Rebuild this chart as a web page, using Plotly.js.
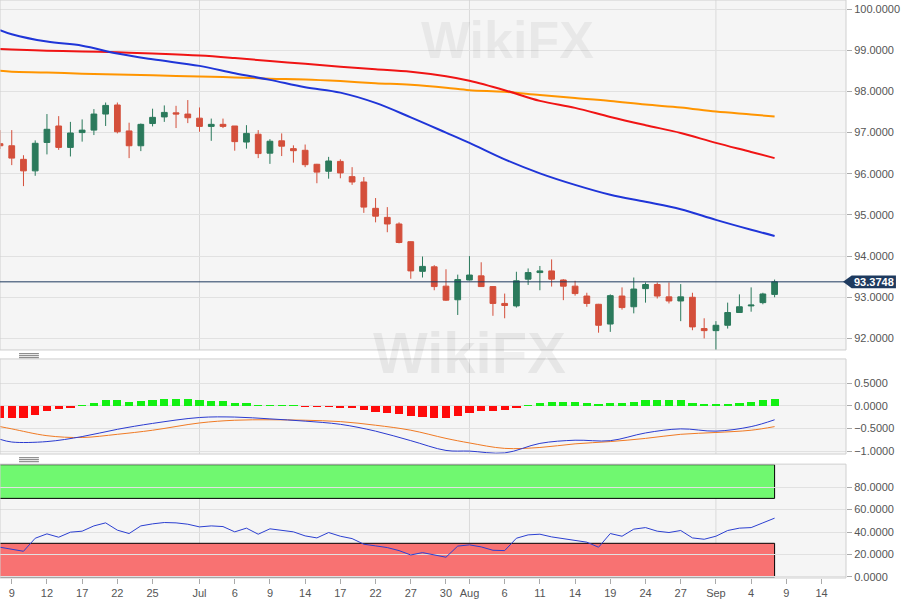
<!DOCTYPE html>
<html>
<head>
<meta charset="utf-8">
<script src="https://cdn.plot.ly/plotly-3.0.1.min.js"></script>
<style>
  html, body { margin: 0; padding: 0; background: #fff; }
  #chart { width: 914px; height: 607px; }
</style>
</head>
<body>
<div id="chart"></div>
<script>
// trading days shown on the chart (weekends removed)
const days = [
  '2020-06-08','2020-06-09','2020-06-10','2020-06-11','2020-06-12','2020-06-15','2020-06-16','2020-06-17','2020-06-18','2020-06-19',
  '2020-06-22','2020-06-23','2020-06-24','2020-06-25','2020-06-26','2020-06-29','2020-06-30',
  '2020-07-01','2020-07-02','2020-07-03','2020-07-06','2020-07-07','2020-07-08','2020-07-09','2020-07-10','2020-07-13','2020-07-14',
  '2020-07-15','2020-07-16','2020-07-17','2020-07-20','2020-07-21','2020-07-22','2020-07-23','2020-07-24','2020-07-27','2020-07-28',
  '2020-07-29','2020-07-30','2020-07-31',
  '2020-08-03','2020-08-04','2020-08-05','2020-08-06','2020-08-07','2020-08-10','2020-08-11','2020-08-12','2020-08-13','2020-08-14',
  '2020-08-17','2020-08-18','2020-08-19','2020-08-20','2020-08-21','2020-08-24','2020-08-25','2020-08-26','2020-08-27','2020-08-28',
  '2020-08-31',
  '2020-09-01','2020-09-02','2020-09-03','2020-09-04','2020-09-07','2020-09-08'
];

const open = [
  96.73,96.68,96.35,96.07,96.76,97.16,96.64,97.00,97.06,97.45,
  97.67,97.04,96.68,97.22,97.38,97.48,97.45,
  97.35,97.15,97.20,97.16,96.77,96.96,96.50,96.80,96.61,96.57,
  96.23,96.06,96.30,95.93,95.80,95.16,94.94,94.78,94.35,93.63,
  93.74,93.27,92.94,
  93.42,93.52,93.26,92.85,92.79,93.44,93.60,93.64,93.42,93.27,
  93.03,92.83,92.35,93.03,92.77,93.21,93.31,93.01,92.91,93.00,
  92.24,
  92.19,92.32,92.63,92.79,92.87,93.07
];
const high = [
  97.06,97.06,96.45,96.81,97.45,97.40,97.26,97.32,97.57,97.73,
  97.73,97.24,97.22,97.58,97.66,97.65,97.79,
  97.61,97.34,97.34,97.16,97.18,97.06,96.84,96.98,96.69,96.71,
  96.24,96.41,96.35,96.16,95.92,95.41,95.19,94.82,94.36,93.99,
  93.78,93.68,93.55,
  94.00,93.85,93.27,93.09,93.62,93.70,93.76,93.92,93.44,93.40,
  93.11,92.84,93.07,93.24,93.48,93.36,93.36,93.36,93.32,93.11,
  92.49,
  92.42,92.87,93.07,93.24,93.11,93.43
];
const low = [
  96.60,96.21,95.70,95.95,96.47,96.58,96.42,96.78,96.94,97.16,
  96.98,96.38,96.55,97.15,97.26,97.11,97.23,
  97.02,96.80,97.11,96.56,96.61,96.38,96.24,96.43,96.27,96.16,
  95.77,95.88,95.89,95.73,95.05,94.82,94.58,94.31,93.45,93.48,
  93.17,92.91,92.57,
  93.41,93.25,92.55,92.49,92.75,93.30,93.17,93.26,92.93,93.04,
  92.77,92.14,92.16,92.70,92.61,92.87,92.97,92.85,92.42,92.20,
  92.00,
  91.72,92.24,92.63,92.65,92.83,93.00
];
const close = [
  96.68,96.38,96.07,96.74,97.08,96.64,96.99,97.06,97.45,97.66,
  97.02,96.68,97.20,97.37,97.49,97.45,97.36,
  97.15,97.20,97.15,96.78,96.98,96.49,96.79,96.67,96.56,96.22,
  96.04,96.31,96.02,95.80,95.19,94.97,94.78,94.33,93.64,93.75,
  93.26,92.93,93.43,
  93.54,93.26,92.85,92.80,93.40,93.60,93.64,93.44,93.27,93.09,
  92.85,92.32,93.04,92.75,93.20,93.31,93.03,92.91,93.01,92.28,
  92.19,
  92.32,92.63,92.77,92.81,93.08,93.3748
];

// moving averages and MACD lines read at the labelled dates
const lineDays = [
  '2020-06-08','2020-06-09','2020-06-12','2020-06-17','2020-06-22','2020-06-25','2020-07-01','2020-07-06',
  '2020-07-09','2020-07-14','2020-07-17','2020-07-22','2020-07-27','2020-07-30','2020-08-03','2020-08-06',
  '2020-08-11','2020-08-14','2020-08-19','2020-08-24','2020-08-27','2020-09-01','2020-09-04','2020-09-08'
];
const ma50 = [99.49,99.39,99.21,99.11,98.92,98.78,98.62,98.44,98.28,98.10,97.97,97.72,97.37,97.00,96.75,96.35,96.01,95.73,95.49,95.32,95.14,94.88,94.64,94.49];
const ma100 = [99.03,99.02,98.99,98.97,98.95,98.92,98.87,98.81,98.74,98.67,98.60,98.54,98.48,98.37,98.26,98.03,97.77,97.60,97.38,97.18,96.99,96.75,96.53,96.38];
const ma200 = [98.50,98.48,98.46,98.43,98.41,98.39,98.36,98.34,98.31,98.29,98.25,98.20,98.16,98.09,98.03,97.99,97.91,97.84,97.77,97.68,97.61,97.51,97.44,97.39];
const macdLine = [-0.74,-0.80,-0.79,-0.68,-0.52,-0.39,-0.26,-0.25,-0.29,-0.34,-0.41,-0.56,-0.77,-0.985,-1.0,-1.04,-0.83,-0.76,-0.77,-0.60,-0.51,-0.56,-0.46,-0.31];
const signalLine = [-0.46,-0.51,-0.66,-0.70,-0.63,-0.54,-0.38,-0.32,-0.31,-0.32,-0.35,-0.43,-0.54,-0.72,-0.82,-0.94,-0.92,-0.84,-0.79,-0.72,-0.63,-0.59,-0.54,-0.46];

const macdHist = [
  -0.26,-0.26,-0.26,-0.21,-0.12,-0.08,-0.04,0.015,0.07,0.12,
  0.12,0.08,0.11,0.13,0.15,0.15,0.15,
  0.13,0.11,0.10,0.06,0.05,0.015,0.015,0.01,0.005,-0.02,
  -0.03,-0.03,-0.04,-0.06,-0.10,-0.13,-0.15,-0.18,-0.23,-0.24,
  -0.26,-0.26,-0.22,
  -0.17,-0.125,-0.12,-0.10,-0.045,0.007,0.07,0.09,0.09,0.08,
  0.065,0.04,0.06,0.06,0.09,0.125,0.125,0.125,0.125,0.07,
  0.04,
  0.03,0.045,0.07,0.09,0.12,0.155
];

const rsi = [
  26.5,24.7,22.9,34.5,38.4,35.4,39.9,40.8,45.5,48.2,
  41.7,38.7,45.5,47.3,48.5,48.2,47.0,
  44.6,45.5,44.9,40.2,43.5,38.1,42.9,41.4,40.2,36.6,
  34.8,39.6,36.3,34.2,29.2,27.7,26.2,23.5,19.6,21.7,
  19.6,17.6,27.5,
  28.6,26.8,23.8,23.5,34.5,37.5,38.1,35.7,34.2,32.7,
  31.0,26.5,38.7,36.3,42.6,44.0,40.8,39.6,41.4,34.8,
  33.6,
  36.3,41.4,43.5,44.0,48.2,52.4
];

const tickDays = [
  '2020-06-09','2020-06-12','2020-06-17','2020-06-22','2020-06-25','2020-07-01','2020-07-06','2020-07-09',
  '2020-07-14','2020-07-17','2020-07-22','2020-07-27','2020-07-30','2020-08-03','2020-08-06','2020-08-11',
  '2020-08-14','2020-08-19','2020-08-24','2020-08-27','2020-09-01','2020-09-04','2020-09-09','2020-09-14'
];
const tickText = ['9','12','17','22','25','Jul','6','9','14','17','22','27','30','Aug','6','11','14','19','24','27','Sep','4','9','14'];
const monthStarts = ['2020-07-01','2020-08-03','2020-09-01'];

const DAY = 86400000;
const lastPrice = close[close.length - 1];
const tickFont = { family: 'Liberation Sans, Arial, sans-serif', size: 11, color: '#555' };
const navy = '#1e3a5f';

const traces = [
  {
    type: 'candlestick', x: days, open: open, high: high, low: low, close: close,
    increasing: { line: { color: '#2b7a5c', width: 1 }, fillcolor: '#2b7a5c' },
    decreasing: { line: { color: '#d44f3b', width: 1 }, fillcolor: '#d44f3b' },
    whiskerwidth: 0, hoverinfo: 'skip'
  },
  { x: lineDays, y: ma200, mode: 'lines', line: { color: '#ff9500', width: 2, shape: 'spline' } },
  { x: lineDays, y: ma100, mode: 'lines', line: { color: '#f01414', width: 2, shape: 'spline' } },
  { x: lineDays, y: ma50, mode: 'lines', line: { color: '#1f35d8', width: 2, shape: 'spline' } },
  {
    type: 'bar', x: days, y: macdHist, yaxis: 'y2', width: 0.7 * DAY,
    marker: { color: macdHist.map(v => v >= 0 ? '#12f012' : '#ff0a0a') }
  },
  { x: lineDays, y: signalLine, yaxis: 'y2', mode: 'lines', line: { color: '#f07a24', width: 1, shape: 'spline' } },
  { x: lineDays, y: macdLine, yaxis: 'y2', mode: 'lines', line: { color: '#2b3bd0', width: 1, shape: 'spline' } },
  { x: days, y: rsi, yaxis: 'y3', mode: 'lines', line: { color: '#2b3fd1', width: 1 } }
];

const shapes = [];
// RSI zones
shapes.push({ type: 'rect', xref: 'x', yref: 'y3', x0: '2020-06-05', x1: days[days.length - 1], y0: 70, y1: 100,
  fillcolor: '#70f870', line: { color: '#000', width: 1 }, layer: 'below' });
shapes.push({ type: 'rect', xref: 'x', yref: 'y3', x0: '2020-06-05', x1: days[days.length - 1], y0: 0, y1: 30,
  fillcolor: '#f87272', line: { color: '#000', width: 1 }, layer: 'below' });
// month separators and panel frames
['y', 'y2', 'y3'].forEach(ax => {
  monthStarts.forEach(d => {
    shapes.push({ type: 'line', xref: 'x', yref: ax + ' domain', x0: d, x1: d, y0: 0, y1: 1,
      line: { color: '#dadada', width: 1 }, layer: 'below' });
  });
  shapes.push({ type: 'rect', xref: 'paper', yref: ax + ' domain', x0: 0, x1: 1, y0: 0, y1: 1,
    line: { color: '#cfcfcf', width: 1 } });
});
// panel drag handles
[0.3881, 0.3846, 0.3812, 0.2081, 0.2047, 0.2012].forEach(y => {
  shapes.push({ type: 'line', xref: 'paper', yref: 'paper', x0: 0.0225, x1: 0.046, y0: y, y1: y,
    line: { color: '#777', width: 1 } });
});
// last price line and label
shapes.push({ type: 'line', xref: 'paper', yref: 'y', x0: 0, x1: 1, y0: lastPrice, y1: lastPrice,
  line: { color: navy, width: 1 } });
shapes.push({ type: 'path', xref: 'paper', yref: 'y', fillcolor: navy, line: { width: 0 },
  path: `M 0.9965 ${lastPrice} L 1.0067 ${lastPrice + 0.154} L 1.059 ${lastPrice + 0.154} ` +
        `L 1.059 ${lastPrice - 0.154} L 1.0067 ${lastPrice - 0.154} Z` });

const annotations = [
  { xref: 'paper', yref: 'y', x: 1.033, y: lastPrice, xanchor: 'center', yanchor: 'middle',
    text: '<b>' + lastPrice.toFixed(4) + '</b>', showarrow: false,
    font: { family: 'Liberation Sans, Arial, sans-serif', size: 11, color: '#fff' } },
  { xref: 'paper', yref: 'paper', x: 0.6, y: 0.93, xanchor: 'center', yanchor: 'middle',
    text: '<b>WikiFX</b>', showarrow: false,
    font: { family: 'Liberation Sans, Arial, sans-serif', size: 52, color: 'rgba(0,0,0,0.05)' } },
  { xref: 'paper', yref: 'paper', x: 0.555, y: 0.39, xanchor: 'center', yanchor: 'middle',
    text: '<b>WikiFX</b>', showarrow: false,
    font: { family: 'Liberation Sans, Arial, sans-serif', size: 58, color: 'rgba(0,0,0,0.06)' } }
];

const yCommon = {
  side: 'right', anchor: 'x', tickformat: '.4f', gridcolor: '#e1e1e1', zeroline: false,
  ticks: 'outside', ticklen: 5, tickcolor: '#aaa', tickfont: tickFont, showline: false
};

const layout = {
  width: 914, height: 607,
  margin: { l: 0, r: 68, t: 0, b: 29 },
  paper_bgcolor: '#fff', plot_bgcolor: '#f5f5f5',
  showlegend: false, hovermode: false, bargap: 0,
  xaxis: {
    type: 'date', anchor: 'y3', range: ['2020-06-08', '2020-09-16 02:00'],
    rangebreaks: [{ bounds: ['sat', 'mon'] }],
    rangeslider: { visible: false },
    tickmode: 'array', tickvals: tickDays, ticktext: tickText,
    ticks: 'outside', ticklen: 5, tickcolor: '#aaa', tickfont: tickFont,
    showgrid: false, zeroline: false
  },
  yaxis: Object.assign({}, yCommon, { domain: [0.3945, 1], range: [91.72, 100.22], dtick: 1, tick0: 0 }),
  yaxis2: Object.assign({}, yCommon, { domain: [0.2145, 0.379], range: [-1.064, 1.03], tickmode: 'array', tickvals: [-1, -0.5, 0, 0.5] }),
  yaxis3: Object.assign({}, yCommon, { domain: [0, 0.197], range: [-0.9, 100.5], tickmode: 'array', tickvals: [0, 20, 40, 60, 80] }),
  shapes: shapes,
  annotations: annotations
};

Plotly.newPlot('chart', traces, layout, { displayModeBar: false, staticPlot: true });
</script>
</body>
</html>
